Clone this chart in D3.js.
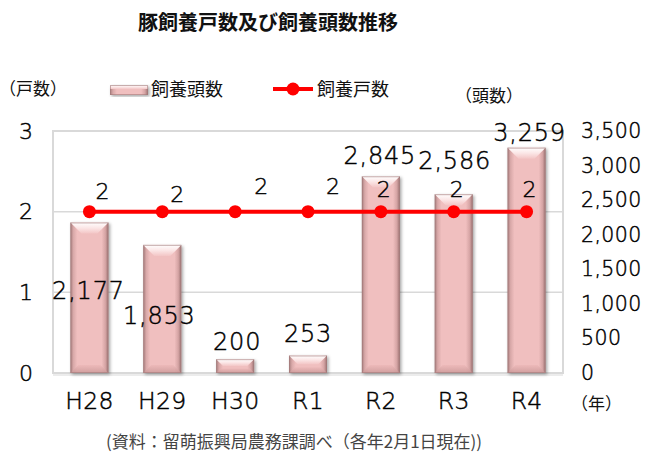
<!DOCTYPE html>
<html>
<head>
<meta charset="utf-8">
<script src="https://cdn.jsdelivr.net/npm/d3@7/dist/d3.min.js"></script>
<style>
  html, body { margin: 0; padding: 0; background: #fff; }
  svg { display: block; }
</style>
</head>
<body>
<script>
// ---- data ----
const categories = ["H28", "H29", "H30", "R1", "R2", "R3", "R4"];
const headCounts = [2177, 1853, 200, 253, 2845, 2586, 3259];   // 飼養頭数 (right axis)
const farmCounts = [2, 2, 2, 2, 2, 2, 2];                        // 飼養戸数 (left axis)
const leftTicks = [0, 1, 2, 3];
const rightTicks = [0, 500, 1000, 1500, 2000, 2500, 3000, 3500];
const titleText = "豚飼養戸数及び飼養頭数推移";
const seriesNames = ["飼養頭数", "飼養戸数"];
const leftUnit = "（戸数）";
const rightUnit = "（頭数）";
const xUnit = "（年）";
const sourceText = "(資料：留萌振興局農務課調べ（各年2月1日現在))";

// ---- layout ----
const W = 660, H = 454;
const plot = { left: 53, right: 563, top: 131, bottom: 373 };
const numFont = "'DejaVu Sans', sans-serif";
const numWeight = 200;
const jpFont = "'Noto Sans CJK JP', sans-serif";

// manual label placements (Excel-style), offsets in px
const barLabelDx = [-1, -3, 2, 0, -1, 1, 3];
const barLabelDy = [68, 70, -18, -22, -21, -34, -15];
const lineLabelDx = [13, 15, 26, 25, 3, 3, 3];
const lineLabelDy = [-21, -18, -26, -26, -23, -23, -23];

const svg = d3.select("body").append("svg").attr("width", W).attr("height", H);

const defs = svg.append("defs");
const sideGrad = defs.append("linearGradient").attr("id", "barSide").attr("x1", 0).attr("x2", 1).attr("y1", 0).attr("y2", 0);
[[0, "#a77d7d"], [0.08, "#d9a9a9"], [0.18, "#f0bfbf"], [0.82, "#f0bfbf"], [0.92, "#d5a4a4"], [1, "#9c7272"]]
  .forEach(([o, c]) => sideGrad.append("stop").attr("offset", o).attr("stop-color", c));
const topGrad = defs.append("linearGradient").attr("id", "barTop").attr("x1", 0).attr("x2", 0).attr("y1", 0).attr("y2", 1);
[[0, "#ffffff"], [0.5, "#fbe6e6"], [1, "#f3c6c6"]].forEach(([o, c]) => topGrad.append("stop").attr("offset", o).attr("stop-color", c));
const botGrad = defs.append("linearGradient").attr("id", "barBot").attr("x1", 0).attr("x2", 0).attr("y1", 0).attr("y2", 1);
[[0, "#ecb8b8"], [1, "#c99797"]].forEach(([o, c]) => botGrad.append("stop").attr("offset", o).attr("stop-color", c));
const shadow = defs.append("filter").attr("id", "shadow").attr("x", "-30%").attr("y", "-10%").attr("width", "160%").attr("height", "130%");
shadow.append("feDropShadow").attr("dx", 1.5).attr("dy", 1.5).attr("stdDeviation", 1.5).attr("flood-color", "#000").attr("flood-opacity", 0.35);

// ---- scales ----
const x = d3.scaleBand().domain(categories).range([plot.left, plot.right]).paddingInner(0.478).paddingOuter(0.239);
const yL = d3.scaleLinear().domain([0, 3]).range([plot.bottom, plot.top]);
const yR = d3.scaleLinear().domain([0, 3500]).range([plot.bottom, plot.top]);
const cx = c => x(c) + x.bandwidth() / 2;

// ---- plot frame & grid ----
svg.append("rect").attr("x", plot.left).attr("y", plot.top)
  .attr("width", plot.right - plot.left).attr("height", plot.bottom - plot.top)
  .attr("fill", "#fff").attr("stroke", "#d9d9d9").attr("stroke-width", 2);
svg.append("g").selectAll("line").data(leftTicks.filter(t => t > 0 && t < 3)).join("line")
  .attr("x1", plot.left).attr("x2", plot.right)
  .attr("y1", d => yL(d)).attr("y2", d => yL(d))
  .attr("stroke", "#d9d9d9").attr("stroke-width", 1.5);
svg.append("line").attr("x1", plot.left).attr("x2", plot.right).attr("y1", plot.bottom + 2).attr("y2", plot.bottom + 2)
  .attr("stroke", "#ececec").attr("stroke-width", 2);

// ---- bars ----
const bars = svg.append("g").selectAll("g").data(categories).join("g").attr("filter", "url(#shadow)");
bars.each(function (c, i) {
  const g = d3.select(this);
  const x0 = x(c), w = x.bandwidth();
  const y0 = yR(headCounts[i]), y1 = yR(0);
  const h = y1 - y0;
  const b = Math.min(11, h / 2, w / 3);
  const bb = Math.min(8, h / 3, w / 4);
  g.append("rect").attr("x", x0).attr("y", y0).attr("width", w).attr("height", h).attr("fill", "url(#barSide)");
  g.append("polygon").attr("points", [[x0, y0], [x0 + w, y0], [x0 + w - b, y0 + b], [x0 + b, y0 + b]].join(" "))
    .attr("fill", "url(#barTop)");
  g.append("polygon").attr("points", [[x0, y1], [x0 + w, y1], [x0 + w - bb, y1 - bb], [x0 + bb, y1 - bb]].join(" "))
    .attr("fill", "url(#barBot)").attr("opacity", 0.8);
  g.append("rect").attr("x", x0 + 0.5).attr("y", y0 + 0.5).attr("width", w - 1).attr("height", h - 1)
    .attr("fill", "none").attr("stroke", "#a27a7a").attr("stroke-width", 1).attr("opacity", 0.6);
});

// ---- line ----
const line = d3.line().x((d, i) => cx(categories[i])).y(d => yL(d));
svg.append("path").datum(farmCounts).attr("d", line).attr("fill", "none").attr("stroke", "#ff0000").attr("stroke-width", 4);
svg.append("g").selectAll("circle").data(farmCounts).join("circle")
  .attr("cx", (d, i) => cx(categories[i])).attr("cy", d => yL(d)).attr("r", 6.5).attr("fill", "#ff0000");

// number text styling: thin geometric look
const numStyle = sel => sel.attr("font-family", numFont).attr("font-weight", numWeight)
  .attr("fill", "#000").attr("stroke", "#000").attr("stroke-width", 0.45);

// ---- data labels ----
svg.append("g").selectAll("text").data(headCounts).join("text")
  .attr("x", (d, i) => cx(categories[i]) + barLabelDx[i])
  .attr("y", (d, i) => yR(d) + barLabelDy[i])
  .attr("dy", "0.36em").attr("text-anchor", "middle")
  .attr("font-size", 24).attr("letter-spacing", 0.8)
  .call(numStyle)
  .text(d => d3.format(",")(d));
svg.append("g").selectAll("text").data(farmCounts).join("text")
  .attr("x", (d, i) => cx(categories[i]) + lineLabelDx[i])
  .attr("y", (d, i) => yL(d) + lineLabelDy[i])
  .attr("dy", "0.36em").attr("text-anchor", "middle")
  .attr("font-size", 22)
  .call(numStyle)
  .text(d => d);

// ---- axes ----
const axL = svg.append("g").attr("transform", `translate(${plot.left},0)`)
  .call(d3.axisLeft(yL).tickValues(leftTicks).tickSize(0).tickPadding(20).tickFormat(d3.format("d")));
const axR = svg.append("g").attr("transform", `translate(${plot.right},0)`)
  .call(d3.axisRight(yR).tickValues(rightTicks).tickSize(0).tickPadding(18).tickFormat(d3.format(",")));
const axB = svg.append("g").attr("transform", `translate(0,${plot.bottom})`)
  .call(d3.axisBottom(x).tickSize(0).tickPadding(19));
[axL, axR, axB].forEach(a => {
  a.select(".domain").remove();
  a.selectAll("text").call(numStyle);
});
axL.selectAll("text").attr("font-size", 22);
axR.selectAll("text").attr("font-size", 20.5).attr("letter-spacing", 0.4);
axB.selectAll("text").attr("font-size", 23.5).attr("letter-spacing", 0.3);

// ---- titles / units ----
svg.append("text").attr("x", 268).attr("y", 23).attr("dy", "0.35em").attr("text-anchor", "middle")
  .attr("font-family", jpFont).attr("font-weight", "bold").attr("font-size", 20).attr("fill", "#111").text(titleText);
svg.append("text").attr("x", -1).attr("y", 89).attr("dy", "0.35em")
  .attr("font-family", jpFont).attr("font-size", 17).attr("fill", "#111").text(leftUnit);
svg.append("text").attr("x", 455).attr("y", 96).attr("dy", "0.35em")
  .attr("font-family", jpFont).attr("font-size", 17).attr("fill", "#111").text(rightUnit);
svg.append("text").attr("x", 571).attr("y", 404).attr("dy", "0.35em")
  .attr("font-family", jpFont).attr("font-size", 17).attr("fill", "#111").text(xUnit);

// ---- legend ----
const lg = svg.append("g");
const sw = lg.append("g").attr("filter", "url(#shadow)");
sw.append("rect").attr("x", 110).attr("y", 85).attr("width", 38).attr("height", 10).attr("fill", "url(#barSide)");
sw.append("rect").attr("x", 110).attr("y", 85).attr("width", 38).attr("height", 4).attr("fill", "url(#barTop)");
sw.append("rect").attr("x", 110.5).attr("y", 85.5).attr("width", 37).attr("height", 9).attr("fill", "none").attr("stroke", "#a27a7a").attr("opacity", 0.6);
lg.append("text").attr("x", 151).attr("y", 90).attr("dy", "0.35em")
  .attr("font-family", jpFont).attr("font-size", 18).attr("fill", "#111").text(seriesNames[0]);
lg.append("line").attr("x1", 273).attr("x2", 313).attr("y1", 89).attr("y2", 89).attr("stroke", "#ff0000").attr("stroke-width", 4);
lg.append("circle").attr("cx", 293).attr("cy", 89).attr("r", 6.5).attr("fill", "#ff0000");
lg.append("text").attr("x", 317).attr("y", 90).attr("dy", "0.35em")
  .attr("font-family", jpFont).attr("font-size", 18).attr("fill", "#111").text(seriesNames[1]);

// ---- source ----
svg.append("text").attr("x", 106).attr("y", 442).attr("dy", "0.35em")
  .attr("font-family", jpFont).attr("font-size", 17).attr("fill", "#444").text(sourceText);
</script>
</body>
</html>
